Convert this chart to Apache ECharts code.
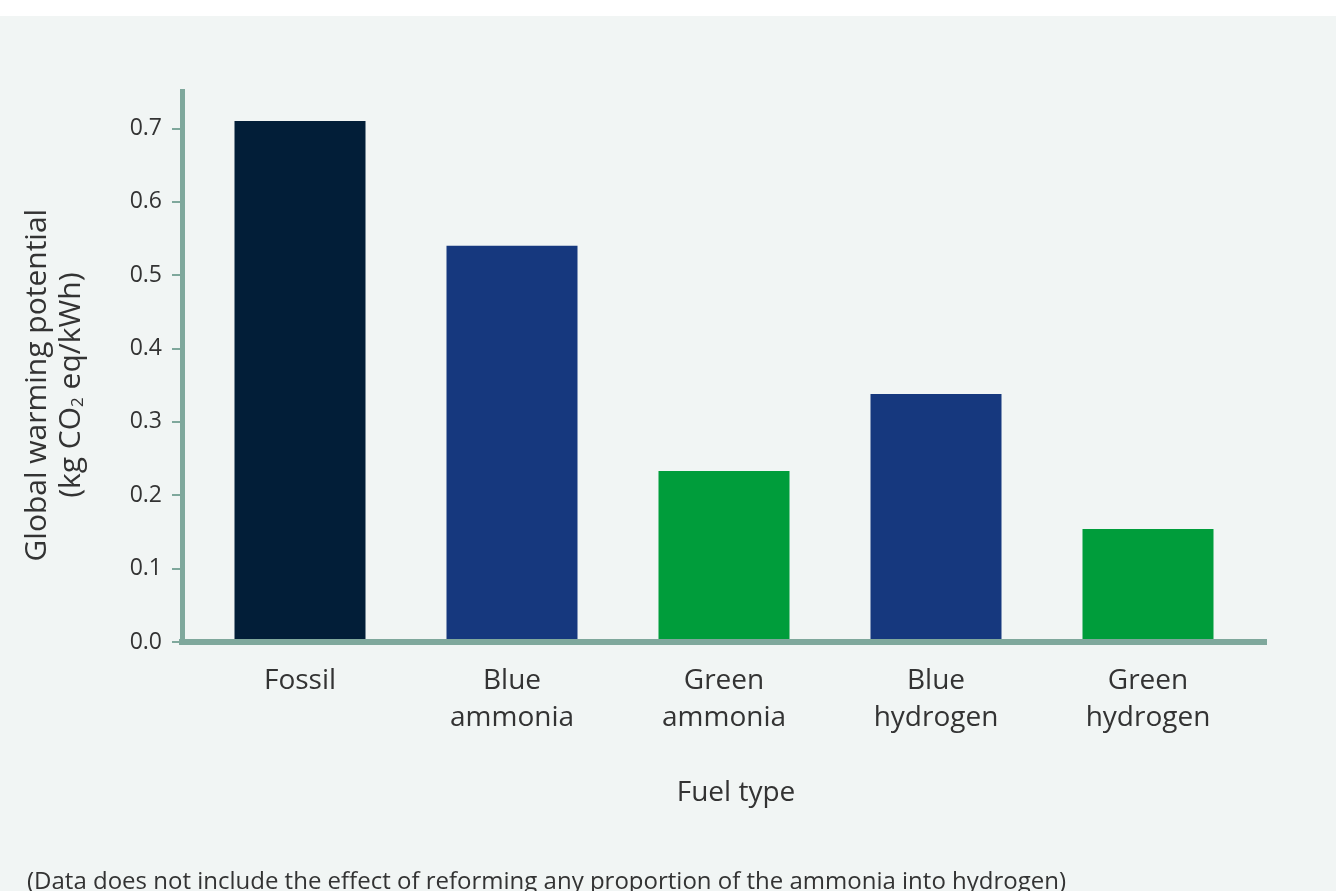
<!DOCTYPE html>
<html>
<head>
<meta charset="utf-8">
<script src="https://cdn.jsdelivr.net/npm/echarts@6/dist/echarts.min.js"></script>
<style>
  html, body { margin: 0; padding: 0; background: #ffffff; }
  #chart { width: 1336px; height: 891px; background: linear-gradient(#ffffff 0, #ffffff 16px, #f1f5f4 16px, #f1f5f4 100%); }
</style>
</head>
<body>
<div id="chart"></div>
<script>
const categories = ['Fossil', 'Blue\nammonia', 'Green\nammonia', 'Blue\nhydrogen', 'Green\nhydrogen'];
const values = [0.71, 0.54, 0.233, 0.338, 0.154];
const barColors = ['#021e38', '#16387e', '#009d3b', '#16387e', '#009d3b'];
const yTicks = { min: 0, max: 0.7, interval: 0.1 };
const footnote = '(Data does not include the effect of reforming any proportion of the ammonia into hydrogen)';

const FONT = 'Open Sans';
const TEXT = '#333333';
const AXIS = '#7fa89c';

const chart = echarts.init(document.getElementById('chart'), null, { renderer: 'canvas' });
chart.setOption({
  backgroundColor: 'transparent',
  animation: false,
  textStyle: { fontFamily: FONT },
  title: {
    text: footnote,
    left: 27,
    top: 867,
    padding: 0,
    textStyle: { fontFamily: FONT, fontSize: 24, fontWeight: 'normal', color: TEXT, lineHeight: 30 }
  },
  grid: [
    { left: 194, right: 82, top: 128.3, bottom: 249, containLabel: false },
    { left: 182, right: 72, top: 91.5, bottom: 249, containLabel: false }
  ],
  xAxis: [
    {
      type: 'category',
      gridIndex: 0,
      data: categories,
      axisLine: { show: false },
      axisTick: { show: false },
      axisLabel: { fontFamily: FONT, fontSize: 28, lineHeight: 37, color: TEXT, margin: 21, interval: 0 },
      name: 'Fuel type',
      nameLocation: 'middle',
      nameGap: 137,
      nameTextStyle: { fontFamily: FONT, fontSize: 28, color: TEXT, padding: [0, 0, 0, 24] }
    },
    {
      type: 'value',
      gridIndex: 1,
      min: 0, max: 1,
      z: 10,
      axisLine: { show: true, lineStyle: { color: AXIS, width: 6, cap: 'square' } },
      axisTick: { show: false },
      axisLabel: { show: false },
      splitLine: { show: false }
    }
  ],
  yAxis: [
    {
      type: 'value',
      gridIndex: 0,
      min: yTicks.min,
      max: yTicks.max,
      interval: yTicks.interval,
      offset: 12,
      axisLine: { show: false },
      axisTick: { show: true, length: 10, lineStyle: { color: AXIS, width: 2 } },
      axisLabel: { fontFamily: FONT, fontSize: 23, color: TEXT, margin: 20, formatter: v => v.toFixed(1) },
      splitLine: { show: false },
      name: '{t|Global warming potential}\n{t|(kg CO}{s|2}{t| eq/kWh)}',
      nameLocation: 'middle',
      nameRotate: 90,
      nameGap: 94,
      nameTextStyle: {
        rich: {
          t: { fontFamily: FONT, fontSize: 30, color: TEXT, lineHeight: 34 },
          s: { fontFamily: FONT, fontSize: 17, color: TEXT, lineHeight: 34, padding: [14, 0, 0, 0] }
        }
      }
    },
    {
      type: 'value',
      gridIndex: 1,
      min: 0, max: 1,
      z: 10,
      axisLine: { show: true, lineStyle: { color: AXIS, width: 5, cap: 'square' } },
      axisTick: { show: false },
      axisLabel: { show: false },
      splitLine: { show: false }
    }
  ],
  series: [
    {
      type: 'bar',
      xAxisIndex: 0,
      yAxisIndex: 0,
      barWidth: 131,
      clip: false,
      data: values.map((v, i) => ({ value: v, itemStyle: { color: barColors[i] } }))
    }
  ]
});
</script>
</body>
</html>
